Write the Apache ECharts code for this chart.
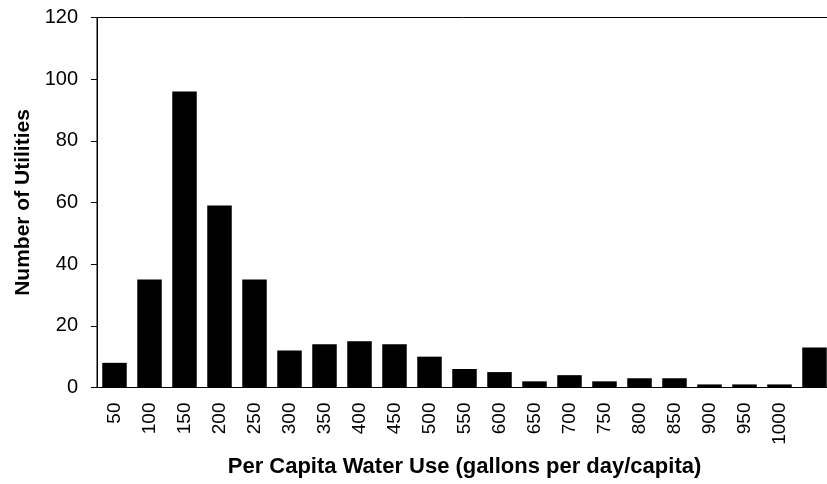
<!DOCTYPE html>
<html>
<head>
<meta charset="utf-8">
<script src="https://cdn.jsdelivr.net/npm/echarts@6/dist/echarts.min.js"></script>
<style>
  html, body { margin: 0; padding: 0; background: #fff; }
  #chart { width: 827px; height: 484px; }
</style>
</head>
<body>
<div id="chart"></div>
<script>
// per capita water use bins (last bin has no label)
const categories = ['50', '100', '150', '200', '250', '300', '350', '400', '450', '500',
  '550', '600', '650', '700', '750', '800', '850', '900', '950', '1000', ''];
const utilities = [8, 35, 96, 59, 35, 12, 14, 15, 14, 10, 6, 5, 2, 4, 2, 3, 3, 1, 1, 1, 13];
const yTicks = [0, 20, 40, 60, 80, 100, 120];

const font = 'Liberation Sans, Arial, sans-serif';

const chart = echarts.init(document.getElementById('chart'));
chart.setOption({
  animation: false,
  backgroundColor: '#fff',
  grid: {
    left: 97, top: 17.5, width: 735, height: 370,
    outerBoundsMode: 'none',
    show: true, borderColor: '#000', borderWidth: 1, backgroundColor: 'transparent'
  },
  xAxis: {
    type: 'category',
    data: categories,
    name: 'Per Capita Water Use (gallons per day/capita)',
    nameLocation: 'middle',
    nameGap: 68,
    nameTextStyle: { fontFamily: font, fontSize: 22, fontWeight: 'bold', color: '#000' },
    axisLine: { lineStyle: { color: '#000', width: 1 } },
    axisTick: { length: 6, lineStyle: { color: '#000' } },
    axisLabel: { rotate: 90, margin: 15, fontFamily: font, fontSize: 19, color: '#000', interval: 0 }
  },
  yAxis: {
    type: 'value',
    min: yTicks[0],
    max: yTicks[yTicks.length - 1],
    interval: yTicks[1] - yTicks[0],
    name: 'Number of Utilities',
    nameLocation: 'middle',
    nameGap: 62,
    nameTextStyle: { fontFamily: font, fontSize: 21, fontWeight: 'bold', color: '#000' },
    axisLine: { show: true, lineStyle: { color: '#000', width: 1 } },
    axisTick: { show: true, length: 6, lineStyle: { color: '#000' } },
    axisLabel: { margin: 19, fontFamily: font, fontSize: 20, color: '#000' },
    splitLine: { show: false }
  },
  series: [{
    type: 'bar',
    data: utilities,
    barCategoryGap: '30%',
    itemStyle: { color: '#000' }
  }]
});
</script>
</body>
</html>
